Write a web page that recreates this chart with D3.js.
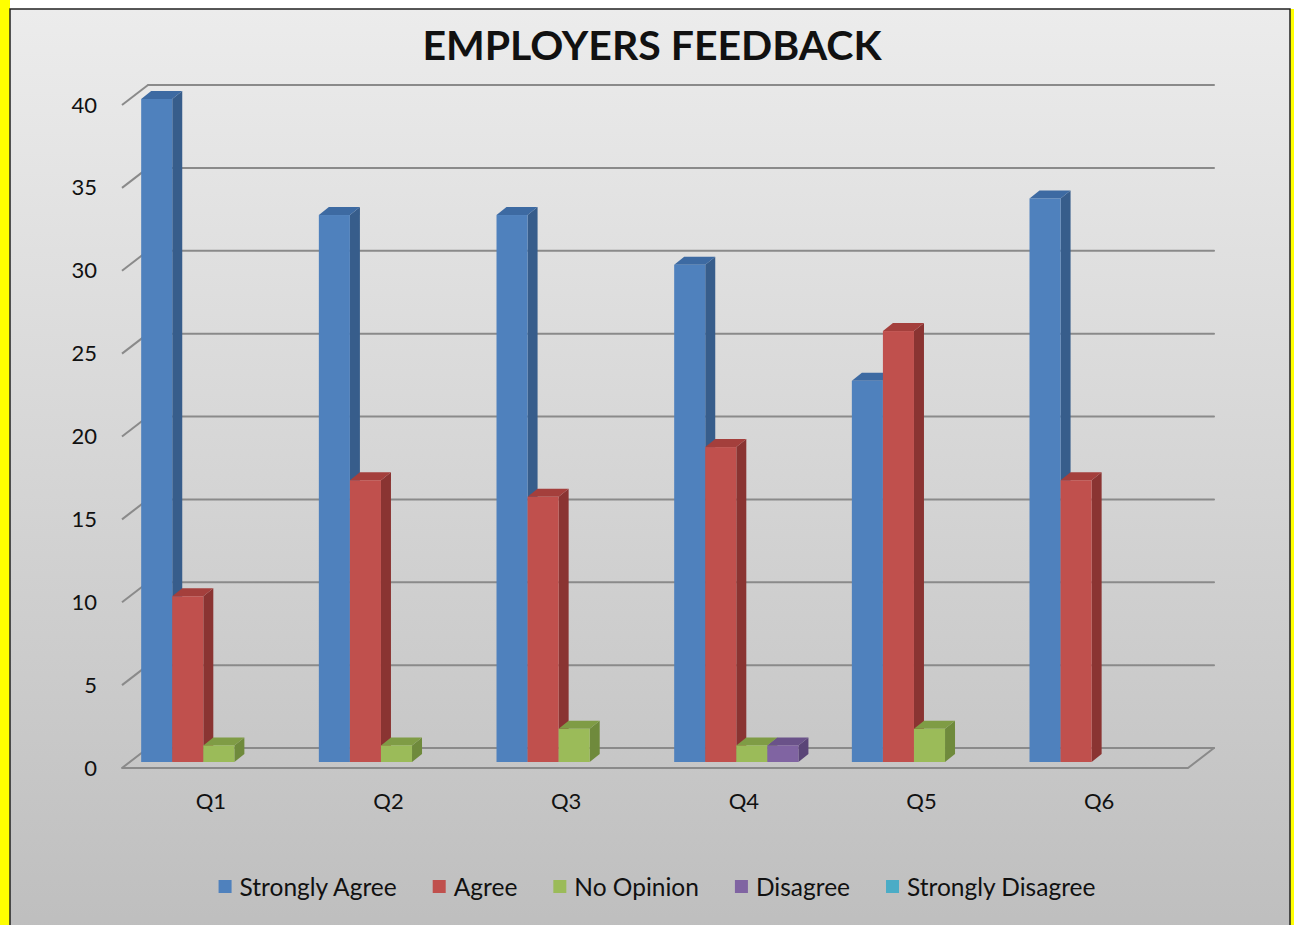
<!DOCTYPE html>
<html>
<head>
<meta charset="utf-8">
<script src="https://cdn.jsdelivr.net/npm/d3@7"></script>
<style>
  body { margin: 0; background: #ffffff; }
  svg { display: block; }
</style>
</head>
<body>
<svg id="chart" width="1294" height="925"></svg>
<script>
var categories = ['Q1', 'Q2', 'Q3', 'Q4', 'Q5', 'Q6'];
var seriesNames = ['Strongly Agree', 'Agree', 'No Opinion', 'Disagree', 'Strongly Disagree'];
var stronglyAgree = [40, 33, 33, 30, 23, 34];
var agree = [10, 17, 16, 19, 26, 17];
var noOpinion = [1, 1, 2, 1, 2, 0];
var disagree = [0, 0, 0, 1, 0, 0];
var stronglyDisagree = [0, 0, 0, 0, 0, 0];
var yTicks = [0, 5, 10, 15, 20, 25, 30, 35, 40];

var seriesValues = [stronglyAgree, agree, noOpinion, disagree, stronglyDisagree];
// front, side, top colours per series
var colors = [
  ['#4f81bd', '#375d8b', '#3d6aa2'],
  ['#c0504d', '#8a3432', '#a43f3c'],
  ['#9bbb59', '#6f8a3c', '#7f9c45'],
  ['#8064a2', '#5a4577', '#6a5289'],
  ['#4bacc6', '#327d91', '#3c93ab']
];

const svg = d3.select('#chart');

// background
const defs = svg.append('defs');
const grad = defs.append('linearGradient')
    .attr('id', 'bg')
    .attr('x1', 0).attr('y1', 0).attr('x2', 0).attr('y2', 1);
grad.append('stop').attr('offset', '0%').attr('stop-color', '#ececec');
grad.append('stop').attr('offset', '100%').attr('stop-color', '#bebebe');

// yellow side strips
svg.append('rect').attr('x', 0).attr('y', 0).attr('width', 10).attr('height', 925).attr('fill', '#ffff00');
svg.append('rect').attr('x', 1290).attr('y', 9).attr('width', 4).attr('height', 916).attr('fill', '#ffff00');

svg.append('rect')
    .attr('x', 10).attr('y', 9)
    .attr('width', 1280).attr('height', 930)
    .attr('fill', 'url(#bg)')
    .attr('stroke', '#222')
    .attr('stroke-width', 1.5);

// 3d geometry: front plane, depth offset to back wall
const depthX = 26, depthY = -20;
const barDX = 8, barDY = -6;
const sideW = 10, sideH = -8;

const x0 = d3.scaleBand()
    .domain(categories)
    .range([122, 1188]);

const x1 = d3.scaleBand()
    .domain(d3.range(seriesNames.length))
    .range([0, x0.bandwidth()])
    .paddingOuter(0.36);

const y = d3.scaleLinear()
    .domain([0, 40])
    .range([768, 105]);

const gridColor = '#8a8a8a';

// back wall gridlines
svg.append('g')
    .selectAll('line')
    .data(yTicks)
    .enter()
    .append('line')
        .attr('x1', 122 + depthX)
        .attr('x2', 1188 + depthX)
        .attr('y1', d => y(d) + depthY)
        .attr('y2', d => y(d) + depthY)
        .attr('stroke', gridColor)
        .attr('stroke-width', 2)
        .attr('stroke-linecap', 'round');

// diagonal ticks on left side
svg.append('g')
    .selectAll('line')
    .data(yTicks.filter(d => d > 0))
    .enter()
    .append('line')
        .attr('x1', 122)
        .attr('x2', 122 + depthX)
        .attr('y1', d => y(d))
        .attr('y2', d => y(d) + depthY)
        .attr('stroke', gridColor)
        .attr('stroke-width', 2);

// floor
svg.append('path')
    .attr('d', 'M' + 122 + ',' + y(0) + 'L' + 1188 + ',' + y(0) +
        'L' + (1188 + depthX) + ',' + (y(0) + depthY) +
        'L' + (122 + depthX) + ',' + (y(0) + depthY) + 'Z')
    .attr('fill', 'none')
    .attr('stroke', gridColor)
    .attr('stroke-width', 2)
    .attr('stroke-linejoin', 'round');

// bars
var bars = [];
categories.forEach((c, ci) => {
  seriesValues.forEach((vals, si) => {
    if (vals[ci] > 0) bars.push({ cat: c, s: si, v: vals[ci] });
  });
});

const barW = x1.bandwidth();
const bar = svg.append('g')
    .selectAll('g')
    .data(bars)
    .enter()
    .append('g');

const bx = d => x0(d.cat) + x1(d.s) + barDX;
const by = d => y(d.v) + barDY;
const b0 = y(0) + barDY;

bar.append('path')
    .attr('d', d => {
      var l = bx(d) + barW, t = by(d);
      return 'M' + l + ',' + t + 'L' + (l + sideW) + ',' + (t + sideH) +
        'L' + (l + sideW) + ',' + (b0 + sideH) + 'L' + l + ',' + b0 + 'Z';
    })
    .attr('fill', d => colors[d.s][1]);

bar.append('path')
    .attr('d', d => {
      var l = bx(d), t = by(d);
      return 'M' + l + ',' + t + 'L' + (l + sideW) + ',' + (t + sideH) +
        'L' + (l + barW + sideW) + ',' + (t + sideH) + 'L' + (l + barW) + ',' + t + 'Z';
    })
    .attr('fill', d => colors[d.s][2]);

bar.append('rect')
    .attr('x', bx)
    .attr('y', by)
    .attr('width', barW)
    .attr('height', d => b0 - by(d))
    .attr('fill', d => colors[d.s][0]);

const font = 'Lato, "Open Sans", sans-serif';

// y axis labels
const yAxis = svg.append('g')
    .attr('transform', 'translate(122,0)')
    .call(d3.axisLeft(y).tickValues(yTicks).tickSize(0).tickPadding(25));
yAxis.select('.domain').remove();
yAxis.selectAll('text')
    .style('font-family', font)
    .style('font-size', '22px')
    .attr('fill', '#111');

// x axis labels
const xAxis = svg.append('g')
    .attr('transform', 'translate(0,' + y(0) + ')')
    .call(d3.axisBottom(x0).tickSize(0).tickPadding(25));
xAxis.select('.domain').remove();
xAxis.selectAll('text')
    .style('font-family', font)
    .style('font-size', '22px')
    .attr('fill', '#111');

// title
svg.append('text')
    .attr('x', 652)
    .attr('y', 60)
    .attr('text-anchor', 'middle')
    .style('font-family', font)
    .style('font-weight', 'bold')
    .style('font-size', '41px')
    .attr('fill', '#111')
    .text('EMPLOYERS FEEDBACK');

// legend
const legend = svg.append('g');
const items = legend.selectAll('g')
    .data(seriesNames)
    .enter()
    .append('g');
items.append('rect')
    .attr('width', 13).attr('height', 13)
    .attr('y', -7)
    .attr('fill', (d, i) => colors[i][0]);
items.append('text')
    .attr('x', 21)
    .attr('dy', '0.35em')
    .style('font-family', font)
    .style('font-size', '24.5px')
    .attr('fill', '#111')
    .text(d => d);

var lx = 0;
items.each(function() {
  const g = d3.select(this);
  g.attr('transform', 'translate(' + lx + ',0)');
  lx += 21 + g.select('text').node().getComputedTextLength() + 36;
});
lx -= 36;
legend.attr('transform', 'translate(' + (657 - lx / 2) + ',887)');
</script>
</body>
</html>
